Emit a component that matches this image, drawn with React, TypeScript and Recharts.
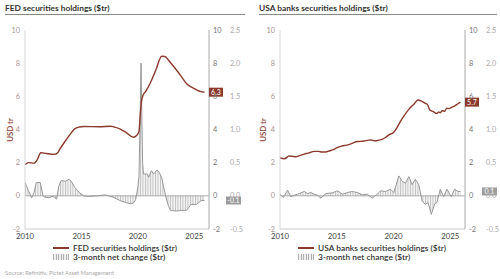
import React from 'react';
import { Area, ComposedChart, Line, ReferenceDot, ReferenceLine, XAxis, YAxis } from 'recharts';

// x axis & tick labels
const yearTicks = [2010, 2015, 2020, 2025];
const leftTicks = [-2, 0, 2, 4, 6, 8, 10];
const changeTicks = [-0.5, 0, 0.5, 1, 1.5, 2, 2.5];

// FED securities holdings, $tr
const fedT = [2010.0, 2010.3, 2010.8, 2011.1, 2011.4, 2011.9, 2012.6, 2012.9, 2013.1, 2013.7, 2014.1, 2014.4, 2014.8, 2015.2, 2016.6, 2017.6, 2017.9, 2018.4, 2019.0, 2019.6, 2019.9, 2020.05, 2020.1, 2020.2, 2020.3, 2020.45, 2020.7, 2021.1, 2021.6, 2022.1, 2022.4, 2022.8, 2023.4, 2024.0, 2024.3, 2024.9, 2025.6, 2025.9];
const fedHoldings = [1.88, 2.0, 1.97, 2.2, 2.6, 2.55, 2.5, 2.6, 2.83, 3.43, 3.8, 4.04, 4.15, 4.18, 4.17, 4.2, 4.15, 4.04, 3.8, 3.53, 3.65, 3.8, 3.9, 4.8, 5.6, 6.05, 6.3, 6.8, 7.6, 8.42, 8.4, 8.1, 7.6, 7.05, 6.77, 6.5, 6.28, 6.25];

// FED 3-month net change, $tr
const fedChangeT = [2010.0, 2010.3, 2010.6, 2010.8, 2011.0, 2011.35, 2011.6, 2011.75, 2012.1, 2012.4, 2012.6, 2012.8, 2013.0, 2013.2, 2013.6, 2013.9, 2014.1, 2014.4, 2014.8, 2015.2, 2015.6, 2016.4, 2017.1, 2017.8, 2018.4, 2018.9, 2019.3, 2019.6, 2019.8, 2020.0, 2020.1, 2020.2, 2020.28, 2020.35, 2020.42, 2020.5, 2020.85, 2020.95, 2021.2, 2021.4, 2021.55, 2021.7, 2021.9, 2022.1, 2022.3, 2022.5, 2022.7, 2022.9, 2023.4, 2023.8, 2024.3, 2024.5, 2024.7, 2025.2, 2025.4, 2025.6, 2025.9];
const fedChange = [0.2, 0.08, -0.03, 0.05, 0.2, 0.2, 0.0, -0.02, -0.03, -0.01, -0.02, -0.05, 0.15, 0.23, 0.22, 0.25, 0.22, 0.13, 0.05, 0.0, -0.01, 0.0, 0.015, -0.02, -0.07, -0.1, -0.12, -0.11, -0.06, 0.13, 0.3, 1.2, 2.0, 1.2, 0.5, 0.33, 0.33, 0.28, 0.38, 0.33, 0.36, 0.39, 0.35, 0.28, 0.12, -0.03, -0.15, -0.22, -0.23, -0.22, -0.22, -0.18, -0.13, -0.13, -0.1, -0.07, -0.07];

// USA banks securities holdings, $tr
const bankT = [2010.0, 2010.4, 2010.8, 2011.1, 2011.4, 2011.7, 2012.0, 2012.3, 2012.6, 2013.0, 2013.4, 2013.7, 2014.0, 2014.4, 2014.8, 2015.1, 2015.4, 2015.9, 2016.3, 2016.7, 2017.0, 2017.4, 2017.8, 2018.0, 2018.4, 2018.7, 2019.0, 2019.3, 2019.6, 2020.0, 2020.3, 2020.6, 2021.0, 2021.3, 2021.6, 2021.8, 2022.15, 2022.5, 2022.8, 2023.0, 2023.2, 2023.5, 2023.8, 2024.0, 2024.1, 2024.3, 2024.5, 2024.7, 2024.9, 2025.1, 2025.4, 2025.7, 2025.9];
const bankHoldings = [2.28, 2.24, 2.4, 2.38, 2.36, 2.42, 2.48, 2.55, 2.6, 2.68, 2.68, 2.64, 2.64, 2.72, 2.82, 2.92, 3.0, 3.06, 3.15, 3.26, 3.28, 3.31, 3.36, 3.37, 3.31, 3.36, 3.41, 3.52, 3.68, 3.82, 4.1, 4.48, 4.9, 5.17, 5.4, 5.53, 5.78, 5.7, 5.58, 5.5, 5.17, 5.08, 4.97, 5.06, 5.0, 5.13, 5.1, 5.29, 5.26, 5.33, 5.42, 5.57, 5.65];

// USA banks 3-month net change, $tr
const bankChangeT = [2010.0, 2010.29, 2010.67, 2010.96, 2011.26, 2011.55, 2011.84, 2012.13, 2012.43, 2012.72, 2013.01, 2013.3, 2013.6, 2014.04, 2014.62, 2015.06, 2015.5, 2015.94, 2016.37, 2016.81, 2017.25, 2017.69, 2018.13, 2018.57, 2018.86, 2019.3, 2019.74, 2020.03, 2020.47, 2020.76, 2021.05, 2021.35, 2021.64, 2021.93, 2022.22, 2022.52, 2022.81, 2023.04, 2023.33, 2023.63, 2023.83, 2024.12, 2024.42, 2024.71, 2025.09, 2025.38, 2025.67, 2025.9];
const bankChange = [0.025, -0.025, 0.086, -0.015, 0.01, 0.025, 0.045, 0.066, 0.035, 0.05, 0.025, 0.01, -0.035, 0.035, 0.045, 0.076, 0.025, 0.05, 0.066, 0.05, 0.015, 0.025, -0.035, 0.025, 0.076, 0.066, 0.1, 0.05, 0.3, 0.22, 0.19, 0.29, 0.17, 0.25, 0.17, -0.076, -0.13, -0.1, -0.28, -0.12, -0.1, 0.1, -0.015, 0.1, -0.015, 0.1, 0.066, 0.066];

const RED = '#8b3a2e';
const FONT = 'Lato, "Open Sans", sans-serif';

type Pt = { t: number; v: number };
const zip = (t: number[], v: number[]): Pt[] => t.map((x, i) => ({ t: x, v: v[i] }));

type PanelProps = {
  id: string;
  left: number;
  title: string;
  holdName: string;
  hold: Pt[];
  change: Pt[];
  axisW: number;
  r2W: number;
  padRight: number;
  titleX: number;
  usdX: number;
  legendX: number;
};

function Panel(p: PanelProps) {
  const plotRight = 250 - p.padRight - p.r2W - 15;
  const lastH = p.hold[p.hold.length - 1];
  const lastC = p.change[p.change.length - 1];
  const tickStyle = { fontSize: 7.3, fontFamily: FONT };
  return (
    <div style={{ position: 'absolute', left: p.left, top: 0, width: 250, height: 279, fontFamily: FONT }}>
      <div style={{ position: 'absolute', left: p.titleX, top: 2.5, fontSize: 8.4, lineHeight: '10px', fontWeight: 700, color: '#333', whiteSpace: 'nowrap' }}>
        {p.title}
      </div>
      <div style={{ position: 'absolute', left: p.titleX, top: 14, width: 245 - p.titleX + (p.left ? 2 : 0), height: 1, background: '#888' }} />
      <div style={{ position: 'absolute', left: p.usdX - 20, top: 125, width: 40, height: 10, lineHeight: '10px', fontSize: 7.8, fontWeight: 600, color: RED, textAlign: 'center', transform: 'rotate(-90deg)' }}>
        USD tr
      </div>
      <div style={{ position: 'absolute', top: 0, left: 0 }}>
        <ComposedChart width={250} height={245} margin={{ top: 30, right: p.padRight, bottom: 0, left: 0 }}>
          <defs>
            <pattern id={`hatch-${p.id}`} width={2.5} height={4} patternUnits="userSpaceOnUse">
              <rect width={2.5} height={4} fill="#f2f2f2" />
              <line x1={0.5} y1={0} x2={0.5} y2={4} stroke="#b5b5b5" strokeWidth={0.8} />
            </pattern>
          </defs>
          <XAxis
            type="number"
            dataKey="t"
            domain={[2010, 2026.3]}
            ticks={yearTicks}
            height={16}
            tickLine={false}
            tickSize={3}
            tickMargin={1}
            stroke="#ccc"
            tick={{ ...tickStyle, fontSize: 7.8, fill: '#444' }}
            allowDataOverflow
          />
          <YAxis
            yAxisId="l"
            domain={[-2, 10]}
            ticks={leftTicks}
            width={p.axisW}
            tickLine={false}
            tickSize={0}
            tickMargin={5}
            stroke="#d5d5d5"
            tick={{ ...tickStyle, fill: '#a89490' }}
            allowDataOverflow
          />
          <YAxis
            yAxisId="r1"
            orientation="right"
            domain={[-2, 10]}
            ticks={leftTicks}
            width={15}
            tickLine={false}
            tickSize={0}
            tickMargin={4}
            stroke="#aaa"
            tick={{ ...tickStyle, fill: '#777' }}
            allowDataOverflow
          />
          <YAxis
            yAxisId="r2"
            orientation="right"
            domain={[-0.5, 2.5]}
            ticks={changeTicks}
            width={p.r2W}
            axisLine={false}
            tickLine={false}
            tickSize={0}
            tickMargin={6}
            tickFormatter={(v: number) => v.toFixed(1)}
            tick={{ ...tickStyle, fill: '#aaa' }}
            allowDataOverflow
          />
          <Area
            yAxisId="r2"
            data={p.change}
            dataKey="v"
            type="linear"
            stroke="#8f8f8f"
            strokeWidth={0.9}
            fill={`url(#hatch-${p.id})`}
            fillOpacity={1}
            isAnimationActive={false}
            dot={false}
            activeDot={false}
          />
          <ReferenceLine yAxisId="r2" y={0} stroke="#999" strokeWidth={0.8} />
          <Line
            yAxisId="l"
            data={p.hold}
            dataKey="v"
            type="monotone"
            stroke={RED}
            strokeWidth={1.4}
            dot={false}
            activeDot={false}
            isAnimationActive={false}
          />
          <ReferenceDot
            yAxisId="l"
            x={lastH.t}
            y={lastH.v}
            shape={(s: any) => (
              <g>
                <rect x={plotRight} y={s.cy - 4.5} width={14} height={9} fill={RED} />
                <text x={plotRight + 7} y={s.cy + 2.5} fontSize={7} fontFamily={FONT} fill="#fff" textAnchor="middle">
                  {lastH.v.toFixed(1)}
                </text>
              </g>
            )}
          />
          <ReferenceDot
            yAxisId="r2"
            x={lastC.t}
            y={lastC.v}
            shape={(s: any) => (
              <g>
                <rect x={plotRight + 17} y={s.cy - 4} width={15} height={8} fill="#9c9c9c" />
                <text x={plotRight + 24.5} y={s.cy + 2.5} fontSize={7} fontFamily={FONT} fill="#fff" textAnchor="middle">
                  {(Math.round(lastC.v * 10) / 10).toFixed(1)}
                </text>
              </g>
            )}
          />
        </ComposedChart>
      </div>
      <div style={{ position: 'absolute', left: p.legendX, top: 247, width: 16, height: 2, background: RED }} />
      <div style={{ position: 'absolute', left: p.legendX + 20, top: 243, fontSize: 8.4, lineHeight: '10px', fontWeight: 600, color: '#333', whiteSpace: 'nowrap' }}>
        {p.holdName}
      </div>
      <div
        style={{
          position: 'absolute',
          left: p.legendX,
          top: 254,
          width: 16,
          height: 6,
          background: 'repeating-linear-gradient(90deg, #b0b0b0 0 1px, #eeeeee 1px 2.5px)',
        }}
      />
      <div style={{ position: 'absolute', left: p.legendX + 20, top: 252, fontSize: 8.4, lineHeight: '10px', fontWeight: 600, color: '#333', whiteSpace: 'nowrap' }}>
        3-month net change ($tr)
      </div>
    </div>
  );
}

export default function App() {
  return (
    <div style={{ position: 'absolute', left: 0, top: 0, width: 500, height: 279, background: '#fff', overflow: 'hidden' }}>
      <Panel
        id="fed"
        left={0}
        title="FED securities holdings ($tr)"
        holdName="FED securities holdings ($tr)"
        hold={zip(fedT, fedHoldings)}
        change={zip(fedChangeT, fedChange)}
        axisW={25}
        r2W={22}
        padRight={4}
        titleX={5}
        usdX={10}
        legendX={53}
      />
      <Panel
        id="bank"
        left={250}
        title="USA banks securities holdings ($tr)"
        holdName="USA banks securities holdings ($tr)"
        hold={zip(bankT, bankHoldings)}
        change={zip(bankChangeT, bankChange)}
        axisW={30}
        r2W={20}
        padRight={0}
        titleX={9}
        usdX={13}
        legendX={48}
      />
      <div style={{ position: 'absolute', left: 5, top: 268.5, fontSize: 5.8, lineHeight: '7px', color: '#aaa', fontFamily: FONT, whiteSpace: 'nowrap' }}>
        Source: Refinitiv, Pictet Asset Management
      </div>
    </div>
  );
}
